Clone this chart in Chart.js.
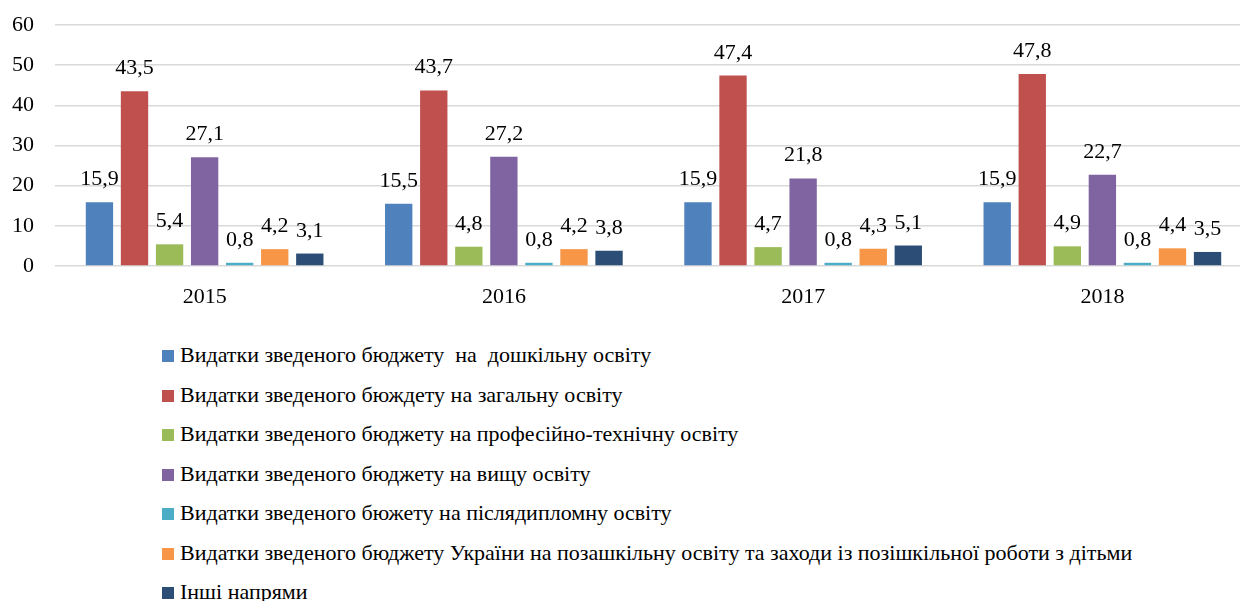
<!DOCTYPE html>
<html>
<head>
<meta charset="utf-8">
<script src="https://cdn.jsdelivr.net/npm/chart.js@4"></script>
<style>
  body { margin: 0; background: #fff; overflow: hidden; width: 1240px; height: 601px; }
  #wrap { position: relative; width: 1254px; height: 320px; }
  #legend { position: absolute; left: 162px; top: 335px; font-family: 'Liberation Serif', 'Liberation Sans'; font-size: 22px; color: #000; }
  #legend div { height: 39.5px; line-height: 39.5px; white-space: pre; }
  #legend span.box { display: inline-block; width: 12px; height: 12px; margin-right: 6px; vertical-align: 0px; }
</style>
</head>
<body>
<div id="wrap"><canvas id="myChart"></canvas></div>
<div id="legend"></div>
<script>
const years = ['2015', '2016', '2017', '2018'];
const seriesNames = [
  'Видатки зведеного бюджету  на  дошкільну освіту',
  'Видатки зведеного бюждету на загальну освіту',
  'Видатки зведеного бюджету на професійно-технічну освіту',
  'Видатки зведеного бюджету на вищу освіту',
  'Видатки зведеного бюжету на післядипломну освіту',
  'Видатки зведеного бюджету України на позашкільну освіту та заходи із позішкільної роботи з дітьми',
  'Інші напрями'
];
const preschool = [15.9, 15.5, 15.9, 15.9];
const general = [43.5, 43.7, 47.4, 47.8];
const vocational = [5.4, 4.8, 4.7, 4.9];
const higher = [27.1, 27.2, 21.8, 22.7];
const postgraduate = [0.8, 0.8, 0.8, 0.8];
const outOfSchool = [4.2, 4.2, 4.3, 4.4];
const other = [3.1, 3.8, 5.1, 3.5];
const colors = ['#4F81BD', '#C0504D', '#9BBB59', '#8064A2', '#4BACC6', '#F79646', '#2C4D75'];
const yTicks = [0, 10, 20, 30, 40, 50, 60];

const seriesValues = [preschool, general, vocational, higher, postgraduate, outOfSchool, other];
const fontStack = "'Liberation Serif', 'Liberation Sans'";

// підписи значень над стовпцями
const valueLabels = {
  id: 'valueLabels',
  afterDatasetsDraw(chart) {
    const ctx = chart.ctx;
    ctx.save();
    ctx.font = '22px ' + fontStack;
    ctx.fillStyle = '#000';
    ctx.textAlign = 'center';
    ctx.textBaseline = 'alphabetic';
    chart.data.datasets.forEach((ds, i) => {
      chart.getDatasetMeta(i).data.forEach((bar, j) => {
        ctx.fillText(String(ds.data[j]).replace('.', ','), bar.x, bar.y - 17);
      });
    });
    ctx.restore();
  }
};

const ctx = document.getElementById('myChart').getContext('2d');
const chart = new Chart(ctx, {
  type: 'bar',
  data: {
    labels: years,
    datasets: seriesValues.map((vals, i) => ({
      label: seriesNames[i],
      data: vals,
      backgroundColor: colors[i],
      borderWidth: 0,
      barPercentage: 0.78,
      categoryPercentage: 0.82
    }))
  },
  options: {
    responsive: true,
    maintainAspectRatio: false,
    animation: false,
    layout: { padding: { top: 25, right: 2, bottom: 0, left: 0 } },
    plugins: {
      legend: { display: false },
      tooltip: { enabled: false }
    },
    scales: {
      x: {
        grid: { display: false, drawTicks: false },
        border: { display: false },
        ticks: {
          padding: 18,
          color: '#000',
          font: { family: fontStack, size: 22 }
        },
        afterFit(scale) { scale.height = 54; }
      },
      y: {
        min: 0,
        max: 60,
        afterBuildTicks(scale) { scale.ticks = yTicks.map(v => ({ value: v })); },
        grid: { color: '#D9D9D9', lineWidth: 1.5, drawTicks: false },
        border: { display: false },
        ticks: {
          padding: 21,
          color: '#000',
          font: { family: fontStack, size: 22 }
        },
        afterFit(scale) {
          scale.width = 55;
          scale.paddingTop = 0;
          scale.paddingBottom = 0;
        }
      }
    }
  },
  plugins: [valueLabels]
});

// легенда окремими рядками
const legendEl = document.getElementById('legend');
chart.data.datasets.forEach(ds => {
  const row = document.createElement('div');
  const box = document.createElement('span');
  box.className = 'box';
  box.style.background = ds.backgroundColor;
  row.appendChild(box);
  row.appendChild(document.createTextNode(ds.label));
  legendEl.appendChild(row);
});
</script>
</body>
</html>
